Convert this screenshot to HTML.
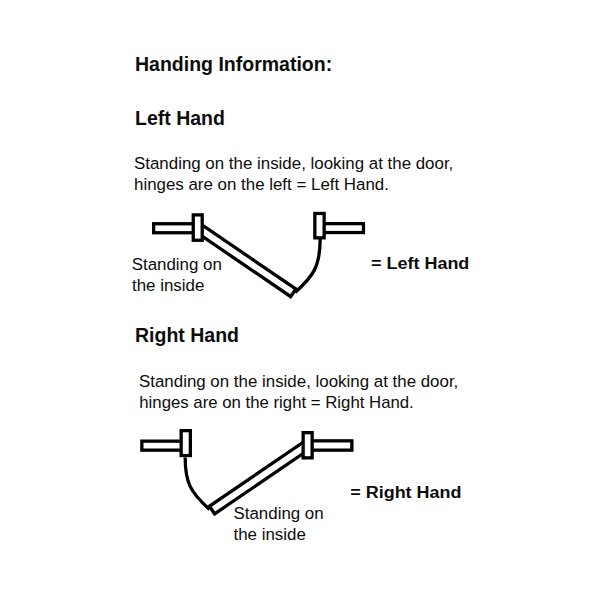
<!DOCTYPE html>
<html><head><meta charset="utf-8"><style>
html,body{margin:0;padding:0;background:#fff;width:600px;height:600px;overflow:hidden}
svg{display:block}
.b{font-family:"Liberation Sans",sans-serif;font-weight:bold;fill:#0d0d0d}
.r{font-family:"Liberation Sans",sans-serif;fill:#0d0d0d}
.s{fill:#fff;stroke:#000;stroke-width:3.3}
.d{fill:#fff;stroke:#000;stroke-width:3.3}
.a{fill:none;stroke:#000;stroke-width:3.3}
</style></head><body>
<svg width="600" height="600" viewBox="0 0 600 600">
<rect width="600" height="600" fill="#fff"/>
<text id="t1" class="b" x="135" y="70.5" font-size="19.5">Handing Information:</text>
<text id="t2" class="b" x="135" y="125.2" font-size="19.5">Left Hand</text>
<text id="t3" class="r" x="134" y="168.8" font-size="16.9">Standing on the inside, looking at the door,</text>
<text id="t4" class="r" x="134" y="190.3" font-size="16.9">hinges are on the left = Left Hand.</text>
<text id="t5" class="r" x="131.7" y="269.7" font-size="16.9">Standing on</text>
<text id="t6" class="r" x="132" y="291" font-size="16.9">the inside</text>
<text id="t7" class="b" x="0" y="0" font-size="17" transform="translate(371 269) scale(1.058 1)">= Left Hand</text>
<text id="t8" class="b" x="135" y="341.7" font-size="19.5">Right Hand</text>
<text id="t9" class="r" x="139" y="386.7" font-size="16.9">Standing on the inside, looking at the door,</text>
<text id="t10" class="r" x="139.3" y="408.2" font-size="16.78">hinges are on the right = Right Hand.</text>
<text id="t11" class="r" x="233.5" y="518.6" font-size="16.9">Standing on</text>
<text id="t12" class="r" x="233.5" y="540" font-size="16.9">the inside</text>
<text id="t13" class="b" x="0" y="0" font-size="17" transform="translate(350.2 498) scale(1.058 1)">= Right Hand</text>
<g id="diag1">
<rect class="s" x="153.65" y="223.75" width="44.05" height="9"/>
<rect class="s" x="320" y="223.65" width="43.45" height="8.9"/>
<rect class="d" x="0" y="-4.62" width="115.7" height="9.24" transform="translate(197.7 227.6) rotate(34.3)"/>
<path class="a" d="M320.16,239 C320.16,267.5 312.3,277 295,292.5"/>
<rect class="s" x="193.25" y="214.9" width="8.95" height="25.35"/>
<rect class="s" x="314.85" y="213.45" width="9.3" height="24.4"/>
</g>
<g id="diag2">
<rect class="s" x="141.85" y="441.15" width="43.85" height="9"/>
<rect class="s" x="307.65" y="440.85" width="44.2" height="9.3"/>
<rect class="d" x="0" y="-4.62" width="115.75" height="9.24" transform="translate(307.65 444.8) rotate(145.7)"/>
<path class="a" d="M185.17,457.5 C185.17,482.7 190.3,492 209.5,509.5"/>
<rect class="s" x="181.15" y="430.65" width="9.2" height="24.9"/>
<rect class="s" x="303.15" y="432.65" width="9" height="25.2"/>
</g>
</svg>
</body></html>
